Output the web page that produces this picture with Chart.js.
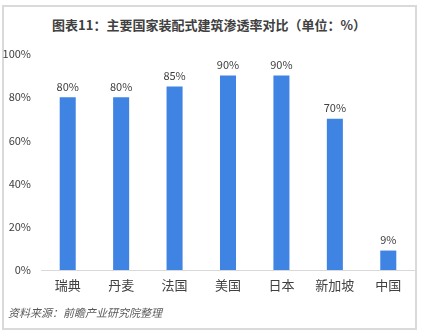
<!DOCTYPE html>
<html>
<head>
<meta charset="utf-8">
<script src="https://cdn.jsdelivr.net/npm/chart.js@4"></script>
<style>
  html, body { margin: 0; padding: 0; background: #fff; }
  #wrap { position: relative; width: 428px; height: 335px; overflow: hidden; }
  #frame {
    position: absolute; left: 2px; top: 5px; width: 415px; height: 325px;
    border: 2px solid #dadada; box-sizing: border-box;
  }
  #title {
    position: absolute; left: 0; top: 15px; width: 418px; text-align: center;
    font: bold 13px "Noto Sans CJK SC", sans-serif; color: #404040;
  }
  #source {
    position: absolute; left: 8px; top: 304px;
    font: italic 11px "Noto Sans CJK SC", sans-serif; color: #595959;
  }
  canvas { position: absolute; left: 0; top: 0; }
</style>
</head>
<body>
<div id="wrap">
  <div id="frame"></div>
  <div id="title">图表11：主要国家装配式建筑渗透率对比（单位：%）</div>
  <canvas id="chart" width="428" height="335"></canvas>
  <div id="source">资料来源：前瞻产业研究院整理</div>
</div>
<script>
// 各国装配式建筑渗透率 (%)
const countries = ['瑞典', '丹麦', '法国', '美国', '日本', '新加坡', '中国'];
const rates = [80, 80, 85, 90, 90, 70, 9];
const yTicks = [0, 20, 40, 60, 80, 100];

const textColor = '#404040';
const fontFamily = '"Noto Sans CJK SC", "Noto Sans", sans-serif';

// 柱顶数值标签
const valueLabels = {
  id: 'valueLabels',
  afterDatasetsDraw(chart) {
    const ctx = chart.ctx;
    const meta = chart.getDatasetMeta(0);
    ctx.save();
    ctx.font = '11px ' + fontFamily;
    ctx.fillStyle = textColor;
    ctx.textAlign = 'center';
    ctx.textBaseline = 'bottom';
    meta.data.forEach((bar, i) => {
      ctx.fillText(rates[i] + '%', bar.x, bar.y - 5);
    });
    ctx.restore();
  }
};

const ctx = document.getElementById('chart').getContext('2d');
new Chart(ctx, {
  type: 'bar',
  data: {
    labels: countries,
    datasets: [{
      data: rates,
      backgroundColor: '#3f83e3',
      barPercentage: 0.3,
      categoryPercentage: 1
    }]
  },
  options: {
    responsive: false,
    animation: false,
    layout: { padding: { top: 54, right: 13, left: 0, bottom: 0 } },
    plugins: {
      legend: { display: false },
      tooltip: { enabled: false }
    },
    scales: {
      x: {
        grid: { display: false, drawTicks: false },
        border: { display: true, color: '#d9d9d9', width: 1 },
        ticks: {
          color: textColor,
          padding: 7,
          font: { family: fontFamily, size: 13 }
        },
        afterFit(scale) { scale.height = 65; }
      },
      y: {
        min: 0,
        max: 100,
        grid: { display: false, drawTicks: false },
        border: { display: false },
        afterBuildTicks(scale) { scale.ticks = yTicks.map(v => ({ value: v })); },
        ticks: {
          color: textColor,
          padding: 10,
          font: { family: fontFamily, size: 11 },
          callback: v => v + '%'
        },
        afterFit(scale) { scale.width = 41; }
      }
    }
  },
  plugins: [valueLabels]
});
</script>
</body>
</html>
